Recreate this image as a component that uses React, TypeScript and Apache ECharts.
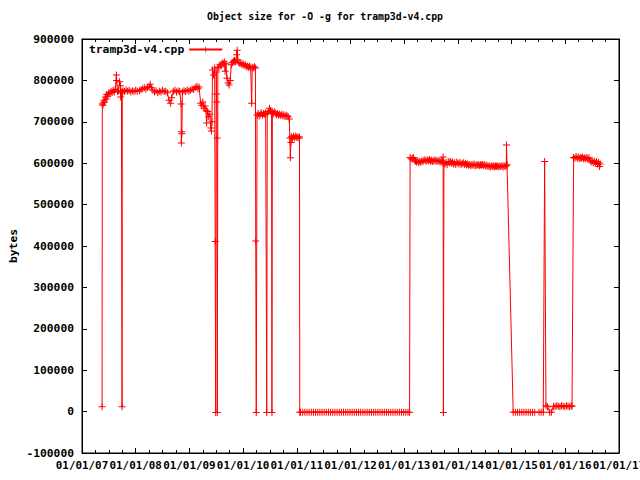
import React, { useEffect, useRef } from "react";
import * as echarts from "echarts";

const chartTitle = "Object size for -O -g for tramp3d-v4.cpp";
const seriesName = "tramp3d-v4.cpp";
const yAxisName = "bytes";
const xTickLabels = ["01/01/07", "01/01/08", "01/01/09", "01/01/10", "01/01/11", "01/01/12", "01/01/13", "01/01/14", "01/01/15", "01/01/16", "01/01/17"];

// [decimal year, bytes]
const early2007: [number, number][] = [
  [2007.374, 12000], [2007.378, 743000], [2007.39, 740000], [2007.40, 746000], [2007.41, 752000],
  [2007.42, 748000], [2007.435, 760000], [2007.45, 755000], [2007.46, 766000], [2007.48, 762000],
  [2007.50, 770000], [2007.52, 768000], [2007.54, 774000], [2007.56, 771000], [2007.58, 776000],
  [2007.60, 772000], [2007.62, 778000], [2007.64, 813000], [2007.645, 800000], [2007.66, 773000],
  [2007.68, 775000], [2007.70, 797000], [2007.715, 787000], [2007.72, 760000], [2007.735, 772000],
  [2007.746, 12000], [2007.75, 770000],
];

const band2008: [number, number][] = [
  [2007.76, 775000], [2007.79, 773000], [2007.82, 777000], [2007.85, 774000], [2007.88, 776000],
  [2007.91, 772000], [2007.94, 775000], [2007.97, 773000], [2008.00, 776000], [2008.03, 774000],
  [2008.07, 775000], [2008.10, 778000], [2008.13, 780000], [2008.16, 782000], [2008.19, 779000],
  [2008.22, 783000], [2008.25, 785000], [2008.27, 791000], [2008.29, 782000], [2008.32, 776000],
  [2008.35, 772000], [2008.38, 775000], [2008.41, 770000], [2008.44, 774000], [2008.47, 772000],
  [2008.50, 776000], [2008.53, 773000], [2008.56, 774000], [2008.59, 770000], [2008.62, 752000],
  [2008.65, 745000], [2008.67, 758000], [2008.70, 774000], [2008.73, 776000], [2008.76, 772000],
  [2008.79, 775000], [2008.82, 773000], [2008.845, 743000], [2008.85, 649000], [2008.855, 676000],
  [2008.86, 671000], [2008.87, 772000], [2008.90, 775000], [2008.93, 773000], [2008.96, 777000],
  [2008.99, 774000], [2009.02, 776000], [2009.05, 779000], [2009.08, 778000], [2009.11, 783000],
  [2009.14, 786000], [2009.16, 780000], [2009.18, 784000],
];

const decline2009: [number, number][] = [
  [2009.21, 745000], [2009.23, 740000], [2009.25, 748000], [2009.27, 733000], [2009.29, 738000],
  [2009.31, 728000], [2009.32, 697000], [2009.34, 725000], [2009.36, 712000], [2009.38, 718000],
  [2009.40, 685000], [2009.41, 678000], [2009.42, 700000], [2009.43, 825000], [2009.45, 813000],
  [2009.47, 830000], [2009.48, 411000], [2009.49, -2000], [2009.50, 820000], [2009.505, 767000],
  [2009.51, 748000], [2009.515, 661000], [2009.52, -2000], [2009.53, 832000],
];

const peak2009: [number, number][] = [
  [2009.55, 832000], [2009.57, 838000], [2009.59, 835000], [2009.61, 842000], [2009.63, 840000],
  [2009.65, 845000], [2009.665, 822000], [2009.68, 840000], [2009.70, 805000], [2009.72, 794000],
  [2009.74, 789000], [2009.76, 800000], [2009.78, 838000], [2009.80, 843000], [2009.82, 846000],
  [2009.84, 848000], [2009.86, 845000], [2009.88, 862000], [2009.89, 873000], [2009.90, 850000],
  [2009.92, 843000], [2009.94, 840000], [2009.96, 842000], [2009.98, 838000], [2010.00, 840000],
  [2010.02, 836000], [2010.04, 838000], [2010.06, 833000], [2010.08, 835000], [2010.10, 832000],
  [2010.12, 834000], [2010.14, 830000], [2010.16, 745000], [2010.17, 832000], [2010.19, 830000],
  [2010.21, 833000], [2010.23, 830000], [2010.235, 412000], [2010.245, -2000],
];

const band2010: [number, number][] = [
  [2010.26, 716000], [2010.28, 720000], [2010.30, 714000], [2010.32, 718000], [2010.34, 722000],
  [2010.36, 716000], [2010.38, 720000], [2010.40, 718000], [2010.42, 722000], [2010.44, -2000],
  [2010.45, 720000], [2010.47, 725000], [2010.49, 733000], [2010.51, 727000], [2010.53, 722000],
  [2010.537, -2000], [2010.545, 722000], [2010.56, 719000], [2010.58, 724000], [2010.60, 721000],
  [2010.62, 717000], [2010.64, 720000], [2010.66, 716000], [2010.68, 719000], [2010.70, 715000],
  [2010.72, 718000], [2010.74, 714000], [2010.76, 717000], [2010.78, 713000], [2010.80, 716000],
  [2010.82, 714000], [2010.84, 712000], [2010.86, 707000], [2010.87, 661000], [2010.88, 613000],
  [2010.89, 650000],
];

const step2010: [number, number][] = [
  [2010.90, 664000], [2010.92, 660000], [2010.94, 665000], [2010.96, 661000], [2010.98, 666000],
  [2011.00, 662000], [2011.02, 664000], [2011.04, 660000], [2011.05, 663000], [2011.055, -1500],
];

const zero2011: [number, number][] = [
  [2011.07, -1500], [2011.11, -1500], [2011.15, -1500], [2011.19, -1500], [2011.23, -1500],
  [2011.27, -1500], [2011.31, -1500], [2011.35, -1500], [2011.39, -1500], [2011.43, -1500],
  [2011.47, -1500], [2011.51, -1500], [2011.55, -1500], [2011.59, -1500], [2011.63, -1500],
  [2011.67, -1500], [2011.71, -1500], [2011.75, -1500], [2011.79, -1500], [2011.83, -1500],
  [2011.87, -1500], [2011.91, -1500], [2011.95, -1500], [2011.99, -1500], [2012.03, -1500],
  [2012.07, -1500], [2012.11, -1500], [2012.15, -1500], [2012.19, -1500], [2012.23, -1500],
  [2012.27, -1500], [2012.31, -1500], [2012.35, -1500], [2012.39, -1500], [2012.43, -1500],
  [2012.47, -1500], [2012.51, -1500], [2012.55, -1500], [2012.59, -1500], [2012.63, -1500],
  [2012.67, -1500], [2012.71, -1500], [2012.75, -1500], [2012.79, -1500], [2012.83, -1500],
  [2012.87, -1500], [2012.91, -1500], [2012.95, -1500], [2012.99, -1500], [2013.03, -1500],
  [2013.07, -1500], [2013.10, -1500],
];

const band2013: [number, number][] = [
  [2013.11, 614000], [2013.13, 610000], [2013.15, 612000], [2013.17, 614000], [2013.19, 608000],
  [2013.21, 605000], [2013.23, 603000], [2013.25, 606000], [2013.27, 601000], [2013.29, 604000],
  [2013.31, 602000], [2013.33, 606000], [2013.35, 604000], [2013.37, 608000], [2013.39, 607000],
  [2013.41, 605000], [2013.43, 608000], [2013.45, 606000], [2013.47, 609000], [2013.49, 605000],
  [2013.51, 607000], [2013.53, 604000], [2013.55, 606000], [2013.57, 608000], [2013.59, 605000],
  [2013.61, 607000], [2013.63, 604000], [2013.65, 606000], [2013.67, 603000], [2013.69, 607000],
  [2013.71, 602000], [2013.725, 615000], [2013.73, -2000], [2013.74, 600000], [2013.76, 598000],
  [2013.78, 602000], [2013.80, 596000], [2013.82, 604000], [2013.84, 601000], [2013.86, 604000],
  [2013.88, 600000], [2013.90, 603000], [2013.92, 598000], [2013.94, 601000], [2013.96, 597000],
  [2013.98, 603000], [2014.00, 600000], [2014.02, 598000], [2014.04, 602000], [2014.06, 596000],
  [2014.08, 599000], [2014.10, 601000], [2014.12, 597000], [2014.14, 600000], [2014.16, 596000],
  [2014.18, 598000], [2014.20, 595000], [2014.22, 597000], [2014.24, 594000], [2014.26, 597000],
  [2014.28, 595000], [2014.30, 598000], [2014.32, 594000], [2014.34, 596000], [2014.36, 595000],
  [2014.38, 597000], [2014.40, 594000], [2014.42, 596000], [2014.44, 595000], [2014.46, 597000],
  [2014.48, 594000], [2014.50, 596000], [2014.52, 593000], [2014.54, 595000], [2014.56, 592000],
  [2014.58, 594000], [2014.60, 591000], [2014.62, 593000], [2014.64, 592000], [2014.66, 594000],
  [2014.68, 591000], [2014.70, 593000], [2014.72, 592000], [2014.74, 594000], [2014.76, 591000],
  [2014.78, 593000], [2014.80, 592000], [2014.82, 594000], [2014.84, 591000], [2014.86, 593000],
  [2014.88, 592000], [2014.90, 594000], [2014.905, 644000], [2014.915, 596000],
];

const gap2015: [number, number][] = [
  [2015.03, -1500], [2015.07, -1500], [2015.11, -1500], [2015.15, -1500], [2015.19, -1500],
  [2015.23, -1500], [2015.27, -1500], [2015.31, -1500], [2015.35, -1500], [2015.39, -1500],
  [2015.43, -1500], [2015.51, -1500], [2015.55, -1500], [2015.59, -1500], [2015.615, 604000],
  [2015.64, 14000], [2015.67, 12000], [2015.71, -1500], [2015.74, -1500], [2015.78, 13000],
  [2015.81, 12000], [2015.84, 14000], [2015.87, 13000], [2015.90, 12000], [2015.93, 14000],
  [2015.96, 13000], [2015.99, 12000], [2016.02, 14000], [2016.05, 13000], [2016.08, 12000],
  [2016.11, 14000], [2016.125, 13000],
];

const band2016: [number, number][] = [
  [2016.155, 614000], [2016.18, 612000], [2016.20, 616000], [2016.22, 612000], [2016.24, 615000],
  [2016.26, 611000], [2016.28, 614000], [2016.30, 612000], [2016.32, 615000], [2016.34, 611000],
  [2016.36, 613000], [2016.38, 610000], [2016.40, 614000], [2016.42, 611000], [2016.44, 613000],
  [2016.46, 607000], [2016.48, 603000], [2016.50, 606000], [2016.52, 601000], [2016.54, 605000],
  [2016.56, 600000], [2016.58, 604000], [2016.60, 598000], [2016.62, 602000], [2016.635, 592000],
  [2016.65, 598000],
];

const FONT = "'DejaVu Sans Mono', monospace";
const CROSS = "path://M0 3h7v1H0z M3 0h1v7H3z";
const BLACK = "#000000";
const RED = "#ff0000";

export default function App() {
  const ref = useRef<HTMLDivElement>(null);
  useEffect(() => {
    if (!ref.current) return;
    const chart = echarts.init(ref.current, null, { renderer: "svg" });
    const data = [
      ...early2007, ...band2008, ...decline2009, ...peak2009, ...band2010,
      ...step2010, ...zero2011, ...band2013, ...gap2015, ...band2016,
    ];
    const labelStyle = { fontFamily: FONT, fontSize: 11.3, fontWeight: "bold" as const, color: BLACK };
    const tickCommon = {
      axisLine: { show: true, onZero: false, lineStyle: { color: BLACK, width: 1 } },
      axisTick: { show: true, inside: true, length: 5, lineStyle: { color: BLACK } },
      splitLine: { show: false },
    };
    chart.setOption({
      animation: false,
      backgroundColor: "#ffffff",
      title: {
        text: chartTitle,
        left: 207,
        top: 11,
        padding: 0,
        textStyle: { fontFamily: FONT, fontSize: 9.8, fontWeight: "bold", color: BLACK },
      },
      legend: {
        left: 89,
        top: 44,
        padding: 0,
        align: "right",
        itemWidth: 33,
        itemHeight: 7,
        selectedMode: false,
        data: [seriesName],
        textStyle: labelStyle,
      },
      grid: {
        left: 82, right: 21, top: 39, bottom: 27,
        show: true, borderColor: BLACK, borderWidth: 1,
        containLabel: false, outerBoundsMode: "none",
      },
      xAxis: [
        {
          type: "value", min: 2007, max: 2017, interval: 1, position: "bottom",
          ...tickCommon,
          minorTick: { show: true, splitNumber: 4, length: 3, lineStyle: { color: BLACK } },
          axisLabel: {
            ...labelStyle, fontSize: 10.9, margin: 7, showMinLabel: true, showMaxLabel: true, hideOverlap: false,
            formatter: (v: number) => xTickLabels[Math.round(v) - 2007] ?? "",
          },
        },
        {
          type: "value", min: 2007, max: 2017, interval: 1, position: "top",
          ...tickCommon,
          minorTick: { show: true, splitNumber: 4, length: 3, lineStyle: { color: BLACK } },
          axisLabel: { show: false },
        },
      ],
      yAxis: [
        {
          type: "value", min: -100000, max: 900000, interval: 100000, position: "left",
          ...tickCommon,
          axisLabel: { ...labelStyle, margin: 8, hideOverlap: false, formatter: (v: number) => String(v) },
          name: yAxisName, nameLocation: "middle", nameGap: 63, nameRotate: 90,
          nameMoveOverlap: false,
          nameTextStyle: labelStyle,
        },
        {
          type: "value", min: -100000, max: 900000, interval: 100000, position: "right",
          ...tickCommon,
          axisLabel: { show: false },
        },
      ],
      series: [
        {
          type: "line",
          name: seriesName,
          xAxisIndex: 0,
          yAxisIndex: 0,
          data,
          symbol: CROSS,
          symbolSize: 7,
          showSymbol: true,
          showAllSymbol: true,
          lineStyle: { color: RED, width: 1 },
          itemStyle: { color: RED, borderWidth: 0 },
          emphasis: { disabled: true },
          silent: true,
        },
      ],
    });
    return () => chart.dispose();
  }, []);
  return <div ref={ref} style={{ position: "fixed", left: 0, top: 0, width: 640, height: 480 }} />;
}
